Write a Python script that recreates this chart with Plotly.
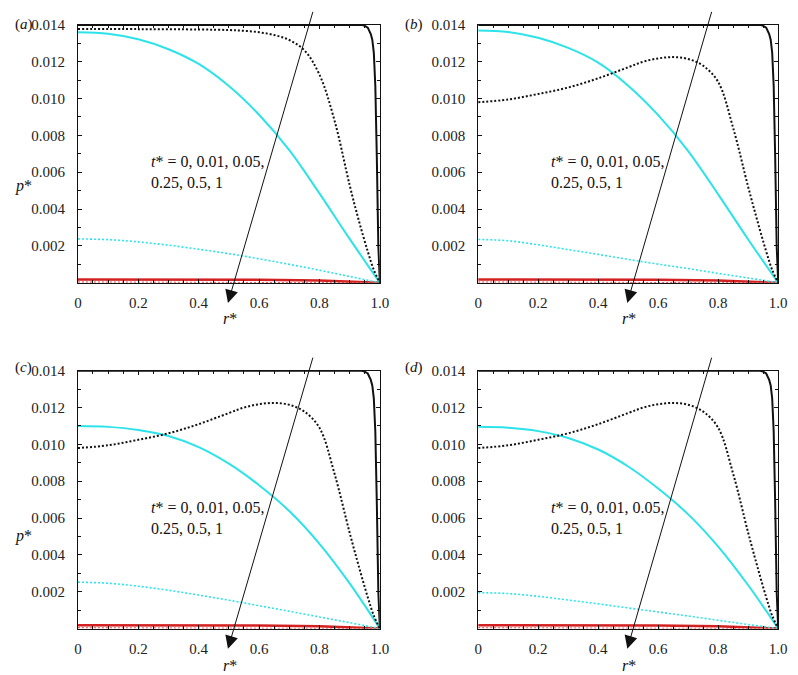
import plotly.graph_objects as go

# ---------------- data ----------------
R11 = [0.0, 0.1, 0.2, 0.3, 0.4, 0.5, 0.6, 0.7, 0.8, 0.9, 1.0]

# t* = 0 (black solid), same in all panels
R_T0 = [0.0, 0.5, 0.94, 0.95, 0.96, 0.97, 0.975, 0.98, 0.985, 0.99, 0.995, 1.0]
P_T0 = [0.0140, 0.0140, 0.0140, 0.01395, 0.01385, 0.0135, 0.0132, 0.0125, 0.0107, 0.0068, 0.0020, 0.0]

# t* = 0.01 (black dotted)
R_T001_A = [0.0, 0.2, 0.4, 0.5, 0.55, 0.6, 0.65, 0.7, 0.75, 0.8, 0.85, 0.9, 0.93, 0.96, 0.98, 1.0]
P_T001_A = [0.01378, 0.01377, 0.01375, 0.01372, 0.01368, 0.01360, 0.01345, 0.01318, 0.01262, 0.01130,
            0.00880, 0.00530, 0.00340, 0.00170, 0.00070, 0.0]
R_T001_B = [0.0, 0.1, 0.2, 0.3, 0.4, 0.5, 0.55, 0.6, 0.65, 0.7, 0.75, 0.8, 0.85, 0.9, 0.93, 0.96, 0.98, 1.0]
P_T001_B = [0.00980, 0.00995, 0.01025, 0.01060, 0.01110, 0.01170, 0.01200, 0.01218, 0.01225, 0.01215,
            0.01178, 0.01090, 0.00840, 0.00520, 0.00340, 0.00170, 0.00070, 0.0]

# t* = 0.05 (cyan solid)
P_T005 = {
    "a": [0.01360, 0.01352, 0.01322, 0.01268, 0.01188, 0.01068, 0.00912, 0.00720, 0.00485, 0.00238, 0.0],
    "b": [0.01370, 0.01362, 0.01330, 0.01275, 0.01195, 0.01070, 0.00910, 0.00715, 0.00480, 0.00235, 0.0],
    "c": [0.01100, 0.01095, 0.01078, 0.01045, 0.00985, 0.00895, 0.00778, 0.00638, 0.00460, 0.00245, 0.0],
    "d": [0.01095, 0.01090, 0.01072, 0.01035, 0.00972, 0.00880, 0.00760, 0.00620, 0.00445, 0.00235, 0.0],
}
# t* = 0.25 (cyan dotted)
P_T025 = {
    "a": [0.00238, 0.00234, 0.00222, 0.00204, 0.00182, 0.00158, 0.00130, 0.00100, 0.00068, 0.00034, 0.0],
    "b": [0.00235, 0.00228, 0.00206, 0.00180, 0.00154, 0.00127, 0.00101, 0.00077, 0.00051, 0.00026, 0.0],
    "c": [0.00252, 0.00246, 0.00230, 0.00208, 0.00182, 0.00154, 0.00124, 0.00094, 0.00063, 0.00032, 0.0],
    "d": [0.00195, 0.00190, 0.00175, 0.00155, 0.00134, 0.00112, 0.00090, 0.00068, 0.00045, 0.00022, 0.0],
}
# t* = 0.5 (red solid) and t* = 1 (red dotted)
R_RED = [0.0, 0.2, 0.4, 0.6, 0.8, 0.9, 1.0]
P_T05 = [0.00018, 0.00018, 0.000175, 0.00016, 0.00012, 0.00007, 0.0]
P_T1 = [0.00004, 0.00004, 0.00004, 0.000035, 0.00003, 0.00002, 0.0]

X_TICKS = [0, 0.2, 0.4, 0.6, 0.8, 1.0]
X_TICKTEXT = ["0", "0.2", "0.4", "0.6", "0.8", "1.0"]
Y_TICKS = [0.002, 0.004, 0.006, 0.008, 0.010, 0.012, 0.014]
Y_TICKTEXT = ["0.002", "0.004", "0.006", "0.008", "0.010", "0.012", "0.014"]

PANELS = ["a", "b", "c", "d"]
ANNOT_TEXT = "<i>t</i>* = 0, 0.01, 0.05,<br>0.25, 0.5, 1"
ARROW_TAIL = (0.775, 0.0146)
ARROW_HEAD = (0.497, -0.0011)

# ---------------- layout ----------------
PAGE_W, PAGE_H = 798, 675
OFF = 8                      # default body margin of the html page
W, H = PAGE_W - OFF, PAGE_H - OFF
FONT = "Liberation Serif, Times New Roman, DejaVu Serif, serif"
BLACK = "#111111"
CYAN = "#2CE3EA"
RED = "#D42020"


def px(x):
    return (x - OFF) / W


def py(y):
    return 1 - (y - OFF) / H


XDOM = {"a": [px(75), px(382)], "b": [px(482), px(787)],
        "c": [px(75), px(382)], "d": [px(482), px(787)]}
YDOM = {"a": [py(278), py(17)], "b": [py(278), py(17)],
        "c": [py(628), py(367)], "d": [py(628), py(367)]}

fig = go.Figure()

for i, pn in enumerate(PANELS):
    xa = "x" if i == 0 else f"x{i + 1}"
    ya = "y" if i == 0 else f"y{i + 1}"
    r001 = R_T001_A if pn == "a" else R_T001_B
    p001 = P_T001_A if pn == "a" else P_T001_B
    traces = [
        (R_RED, P_T1, dict(color=RED, width=1, dash="2px,2px"), "linear"),
        (R_RED, P_T05, dict(color=RED, width=2.5), "linear"),
        (R11, P_T025[pn], dict(color=CYAN, width=1.6, dash="2px,2px"), "spline"),
        (R11, P_T005[pn], dict(color=CYAN, width=2), "spline"),
        (r001, p001, dict(color=BLACK, width=2, dash="2px,2px"), "spline"),
        (R_T0, P_T0, dict(color=BLACK, width=2), "linear"),
    ]
    for xs, ys, ln, shape in traces:
        fig.add_trace(go.Scatter(x=xs, y=ys, mode="lines", line=dict(shape=shape, **ln),
                                 xaxis=xa, yaxis=ya, showlegend=False, hoverinfo="skip"))

    axcommon = dict(showline=True, linecolor=BLACK, linewidth=1, mirror="ticks",
                    showgrid=False, zeroline=False, ticks="inside", tickcolor=BLACK,
                    ticklen=4, tickfont=dict(family=FONT, size=15, color="#222222"))
    fig.layout[("xaxis" if i == 0 else f"xaxis{i + 1}")] = dict(
        domain=XDOM[pn], range=[0, 1.0], anchor=ya, tickvals=X_TICKS, ticktext=X_TICKTEXT,
        minor=dict(dtick=0.05, ticks="inside", ticklen=3, tickcolor=BLACK),
        ticklabelstandoff=6, **axcommon)
    fig.layout[("yaxis" if i == 0 else f"yaxis{i + 1}")] = dict(
        domain=YDOM[pn], range=[0, 0.014], anchor=xa, tickvals=Y_TICKS, ticktext=Y_TICKTEXT,
        minor=dict(dtick=0.001, ticks="inside", ticklen=3, tickcolor=BLACK),
        ticklabelstandoff=9, **axcommon)

    # t* label inside plot
    fig.add_annotation(x=0.235, y=0.0060, xref=xa, yref=ya, text=ANNOT_TEXT, showarrow=False,
                       xanchor="left", yanchor="middle", align="left",
                       font=dict(family=FONT, size=16, color="#111111"))

    # arrow (converted to paper coordinates so it may extend past the axes)
    xd, yd = XDOM[pn], YDOM[pn]
    wpx = (xd[1] - xd[0]) * W
    hpx = (yd[1] - yd[0]) * H
    hx = xd[0] + ARROW_HEAD[0] * (xd[1] - xd[0])
    hy = yd[0] + ARROW_HEAD[1] / 0.014 * (yd[1] - yd[0])
    axp = (ARROW_TAIL[0] - ARROW_HEAD[0]) * wpx
    ayp = -(ARROW_TAIL[1] - ARROW_HEAD[1]) / 0.014 * hpx
    fig.add_annotation(x=hx, y=hy, xref="paper", yref="paper", ax=axp, ay=ayp,
                       axref="pixel", ayref="pixel", text="", showarrow=True,
                       arrowhead=2, arrowsize=2.6, arrowwidth=1, arrowcolor=BLACK)

    # panel letter
    lx = 9 if pn in ("a", "c") else 406
    ly = 17 if pn in ("a", "b") else 364
    fig.add_annotation(x=px(lx), y=py(ly), xref="paper", yref="paper",
                       text=f"(<i>{pn}</i>)", showarrow=False, xanchor="left", yanchor="middle",
                       font=dict(family=FONT, size=15, color="#111111"))
    # r* label
    rx = 230 if pn in ("a", "c") else 635
    ry = 314 if pn in ("a", "b") else 665
    fig.add_annotation(x=px(rx), y=py(ry), xref="paper", yref="paper",
                       text="<i>r</i>*", showarrow=False, xanchor="center", yanchor="middle",
                       font=dict(family=FONT, size=16, color="#111111"))
    # p* label on left panels
    if pn in ("a", "c"):
        pyy = 180 if pn == "a" else 534
        fig.add_annotation(x=px(9), y=py(pyy), xref="paper", yref="paper",
                           text="<i>p</i>*", showarrow=False, xanchor="left", yanchor="middle",
                           font=dict(family=FONT, size=16, color="#111111"))

fig.update_layout(width=W, height=H, margin=dict(l=0, r=0, t=0, b=0),
                  paper_bgcolor="white", plot_bgcolor="white", showlegend=False)

fig.write_html("out.html")
